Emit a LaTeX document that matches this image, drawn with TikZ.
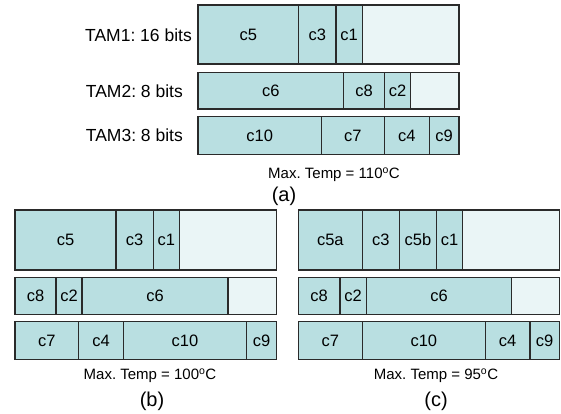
\documentclass[tikz,border=0pt]{standalone}
\usepackage{fontspec}
\setmainfont{Liberation Sans}
\frenchspacing
\definecolor{cellfill}{HTML}{B9DFE1}
\definecolor{idlefill}{HTML}{EAF5F6}
\definecolor{edge}{HTML}{2A2A2A}

\tikzset{
  core/.style={draw=edge, fill=cellfill, line width=1.1pt, inner sep=0pt, outer sep=0pt,
    font=\fontsize{16.5}{16.5}\selectfont},
  idle/.style={draw=edge, fill=idlefill, line width=1.1pt, inner sep=0pt, outer sep=0pt},
  tamlabel/.style={anchor=east, inner sep=0pt, font=\fontsize{17.5}{17.5}\selectfont},
  temp/.style={anchor=base, inner sep=0pt, font=\fontsize{15}{15}\selectfont},
  caption/.style={inner sep=0pt, font=\fontsize{20}{20}\selectfont}
}

% one slot of a TAM schedule: style, name, x0, x1, y0, y1, text
\newcommand{\slot}[7]{%
  \node[#1, minimum width={(#4-#3)*1pt}, minimum height={(#6-#5)*1pt}]
    (#2) at ({(#3+#4)/2},{(#5+#6)/2}) {#7};}

\begin{document}
\begin{tikzpicture}[x=1pt, y=-1pt]
\useasboundingbox (0,0) rectangle (561,414);

% ---------- (a) ----------
\node[tamlabel] (la1) at (192,35) {TAM1: 16 bits};
\node[tamlabel] (la2) at (183,90.8) {TAM2: 8 bits};
\node[tamlabel] (la3) at (183,135.5) {TAM3: 8 bits};

\slot{core}{a1c5}{198}{298.7}{5}{64}{c5}
\slot{core}{a1c3}{298.7}{336}{5}{64}{c3}
\slot{core}{a1c1}{336}{362.3}{5}{64}{c1}
\slot{idle}{a1e}{362.3}{459}{5}{64}{}

\slot{core}{a2c6}{198}{343.7}{72.7}{109}{c6}
\slot{core}{a2c8}{343.7}{384.3}{72.7}{109}{c8}
\slot{core}{a2c2}{384.3}{410.7}{72.7}{109}{c2}
\slot{idle}{a2e}{410.7}{459}{72.7}{109}{}

\slot{core}{a3c10}{198}{321.3}{116.7}{154.3}{c10}
\slot{core}{a3c7}{321.3}{384.3}{116.7}{154.3}{c7}
\slot{core}{a3c4}{384.3}{429.3}{116.7}{154.3}{c4}
\slot{core}{a3c9}{429.3}{459}{116.7}{154.3}{c9}

\node[temp] (ta) at (334,178.3) {Max. Temp = 110\textsuperscript{o}C};
\node[caption] (ca) at (284,196) {(a)};

% ---------- (b) ----------
\slot{core}{b1c5}{15}{116}{210}{270}{c5}
\slot{core}{b1c3}{116}{153.3}{210}{270}{c3}
\slot{core}{b1c1}{153.3}{179.3}{210}{270}{c1}
\slot{idle}{b1e}{179.3}{276.3}{210}{270}{}

\slot{core}{b2c8}{15}{56}{277.7}{314.3}{c8}
\slot{core}{b2c2}{56}{82}{277.7}{314.3}{c2}
\slot{core}{b2c6}{82}{228}{277.7}{314.3}{c6}
\slot{idle}{b2e}{228}{276.3}{277.7}{314.3}{}

\slot{core}{b3c7}{15}{78.7}{321.7}{359.3}{c7}
\slot{core}{b3c4}{78.7}{123.3}{321.7}{359.3}{c4}
\slot{core}{b3c10}{123.3}{246.7}{321.7}{359.3}{c10}
\slot{core}{b3c9}{246.7}{276.3}{321.7}{359.3}{c9}

\node[temp] (tb) at (150,379.3) {Max. Temp = 100\textsuperscript{o}C};
\node[caption] (cb) at (152,401) {(b)};

% ---------- (c) ----------
\slot{core}{c1c5a}{298.3}{362.3}{210}{270}{c5a}
\slot{core}{c1c3}{362.3}{399.3}{210}{270}{c3}
\slot{core}{c1c5b}{399.3}{436.7}{210}{270}{c5b}
\slot{core}{c1c1}{436.7}{462.7}{210}{270}{c1}
\slot{idle}{c1e}{462.7}{559.3}{210}{270}{}

\slot{core}{c2c8}{298.3}{340}{277.7}{314.3}{c8}
\slot{core}{c2c2}{340}{366.3}{277.7}{314.3}{c2}
\slot{core}{c2c6}{366.3}{511.7}{277.7}{314.3}{c6}
\slot{idle}{c2e}{511.7}{559.3}{277.7}{314.3}{}

\slot{core}{c3c7}{298.3}{362.3}{321.7}{359.3}{c7}
\slot{core}{c3c10}{362.3}{485.3}{321.7}{359.3}{c10}
\slot{core}{c3c4}{485.3}{530}{321.7}{359.3}{c4}
\slot{core}{c3c9}{530}{559.3}{321.7}{359.3}{c9}

\node[temp] (tc) at (436,379.3) {Max. Temp = 95\textsuperscript{o}C};
\node[caption] (cc) at (436,401) {(c)};
\end{tikzpicture}
\end{document}
